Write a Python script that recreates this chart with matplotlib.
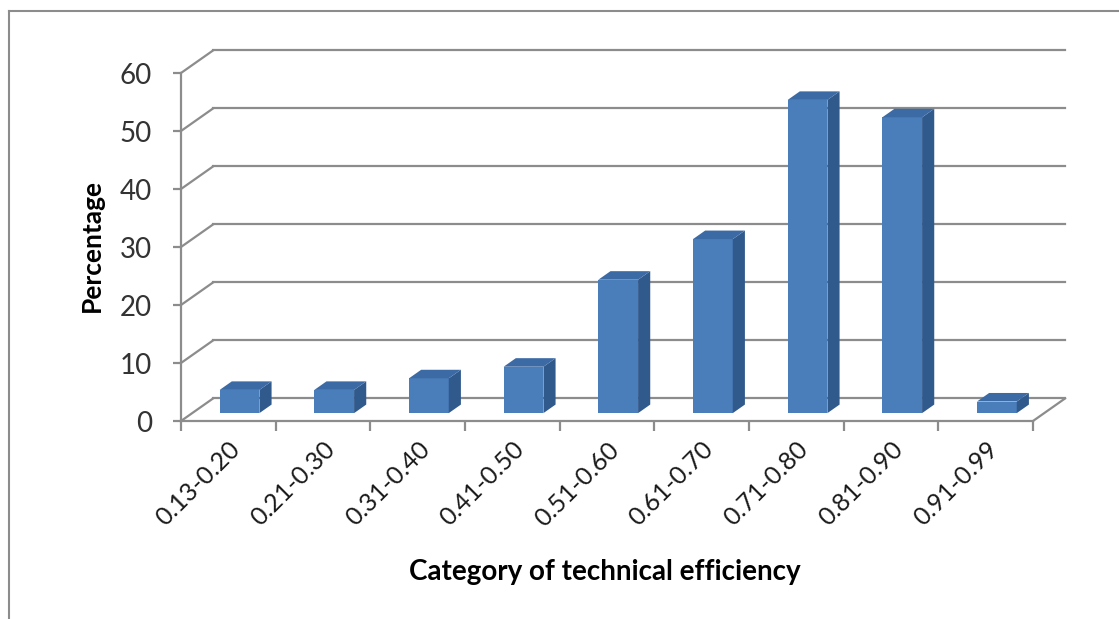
import numpy as np
from matplotlib import pyplot as plt
from matplotlib.patches import Polygon

# data
categories = ['0.13-0.20', '0.21-0.30', '0.31-0.40', '0.41-0.50', '0.51-0.60',
              '0.61-0.70', '0.71-0.80', '0.81-0.90', '0.91-0.99']
percentage = [4, 4, 6, 8, 23, 30, 54, 51, 2]
y_ticks = [0, 10, 20, 30, 40, 50, 60]

plt.rcParams['font.family'] = ['Lato', 'DejaVu Sans']

# pseudo 3D settings (depth direction in data units)
depth_dx = 0.338
depth_dy = 3.88
bar_w = 0.42
bar_front = 0.35   # fraction of depth where the bar front sits
bar_depth = 0.38

front_col = '#4a7ebb'
side_col = '#30598c'
top_col = '#3c6aa5'
grid_col = '#8c8c8c'

W, H = 1119, 619
fig = plt.figure(figsize=(W / 100, H / 100), dpi=100)
ax = fig.add_axes([181 / W, (H - 421) / H, 852 / W, 348 / H])
ax.set_xlim(0, len(categories))
ax.set_ylim(0, 60)
ax.patch.set_alpha(0)

n = len(categories)
# back wall gridlines and left wall diagonals
for v in y_ticks:
    ax.plot([depth_dx, n + depth_dx], [v + depth_dy, v + depth_dy],
            color=grid_col, lw=1.6, clip_on=False, zorder=1)
    ax.plot([0, depth_dx], [v, v + depth_dy], color=grid_col, lw=1.6,
            clip_on=False, zorder=1)
# right floor edge
ax.plot([n, n + depth_dx], [0, depth_dy], color=grid_col, lw=1.6,
        clip_on=False, zorder=1)

x = np.arange(n) + 0.5
fx = x - bar_w / 2 + bar_front * depth_dx
fy = bar_front * depth_dy
ddx = bar_depth * depth_dx
ddy = bar_depth * depth_dy
ax.bar(fx, percentage, width=bar_w, bottom=fy, align='edge', color=front_col,
       edgecolor='none', zorder=3, clip_on=False)
for xi, h in zip(fx, percentage):
    side = [(xi + bar_w, fy), (xi + bar_w + ddx, fy + ddy),
            (xi + bar_w + ddx, fy + h + ddy), (xi + bar_w, fy + h)]
    top = [(xi, fy + h), (xi + bar_w, fy + h), (xi + bar_w + ddx, fy + h + ddy),
           (xi + ddx, fy + h + ddy)]
    ax.add_patch(Polygon(side, closed=True, fc=side_col, ec='none', zorder=3,
                         clip_on=False))
    ax.add_patch(Polygon(top, closed=True, fc=top_col, ec='none', zorder=3,
                         clip_on=False))

for s in ['top', 'right']:
    ax.spines[s].set_visible(False)
for s in ['left', 'bottom']:
    ax.spines[s].set_color(grid_col)
    ax.spines[s].set_linewidth(1.6)

ax.set_yticks(y_ticks)
ax.set_yticklabels([str(v) for v in y_ticks], fontsize=20, color='#333333')
ax.tick_params(axis='y', length=6, width=1.6, color=grid_col, pad=15)

ax.set_xticks(np.arange(n + 1))
ax.set_xticklabels([])
ax.tick_params(axis='x', which='major', length=7, width=1.6, color=grid_col)
ax.set_xticks(x, categories, minor=True)
ax.tick_params(axis='x', which='minor', length=0, pad=12)
for lab in ax.get_xticklabels(minor=True):
    lab.set_rotation(45)
    lab.set_ha('right')
    lab.set_rotation_mode('anchor')
    lab.set_fontsize(18)
    lab.set_color('#1a1a1a')

fig.text(92 / W, 1 - 245 / H, 'Percentage', rotation=90, fontsize=19,
         fontweight='bold', ha='center', va='center')
fig.text(605 / W, 1 - 572 / H, 'Category of technical efficiency', fontsize=20,
         fontweight='bold', ha='center', va='center')

# outer chart border (top and left visible)
fig.add_artist(plt.Line2D([8.5 / W, 8.5 / W], [0, 1 - 10.5 / H],
                          color='#8c8c8c', lw=1.5))
fig.add_artist(plt.Line2D([8.5 / W, 1], [1 - 10.5 / H, 1 - 10.5 / H],
                          color='#8c8c8c', lw=1.5))

fig.savefig('out.png', dpi=100)
